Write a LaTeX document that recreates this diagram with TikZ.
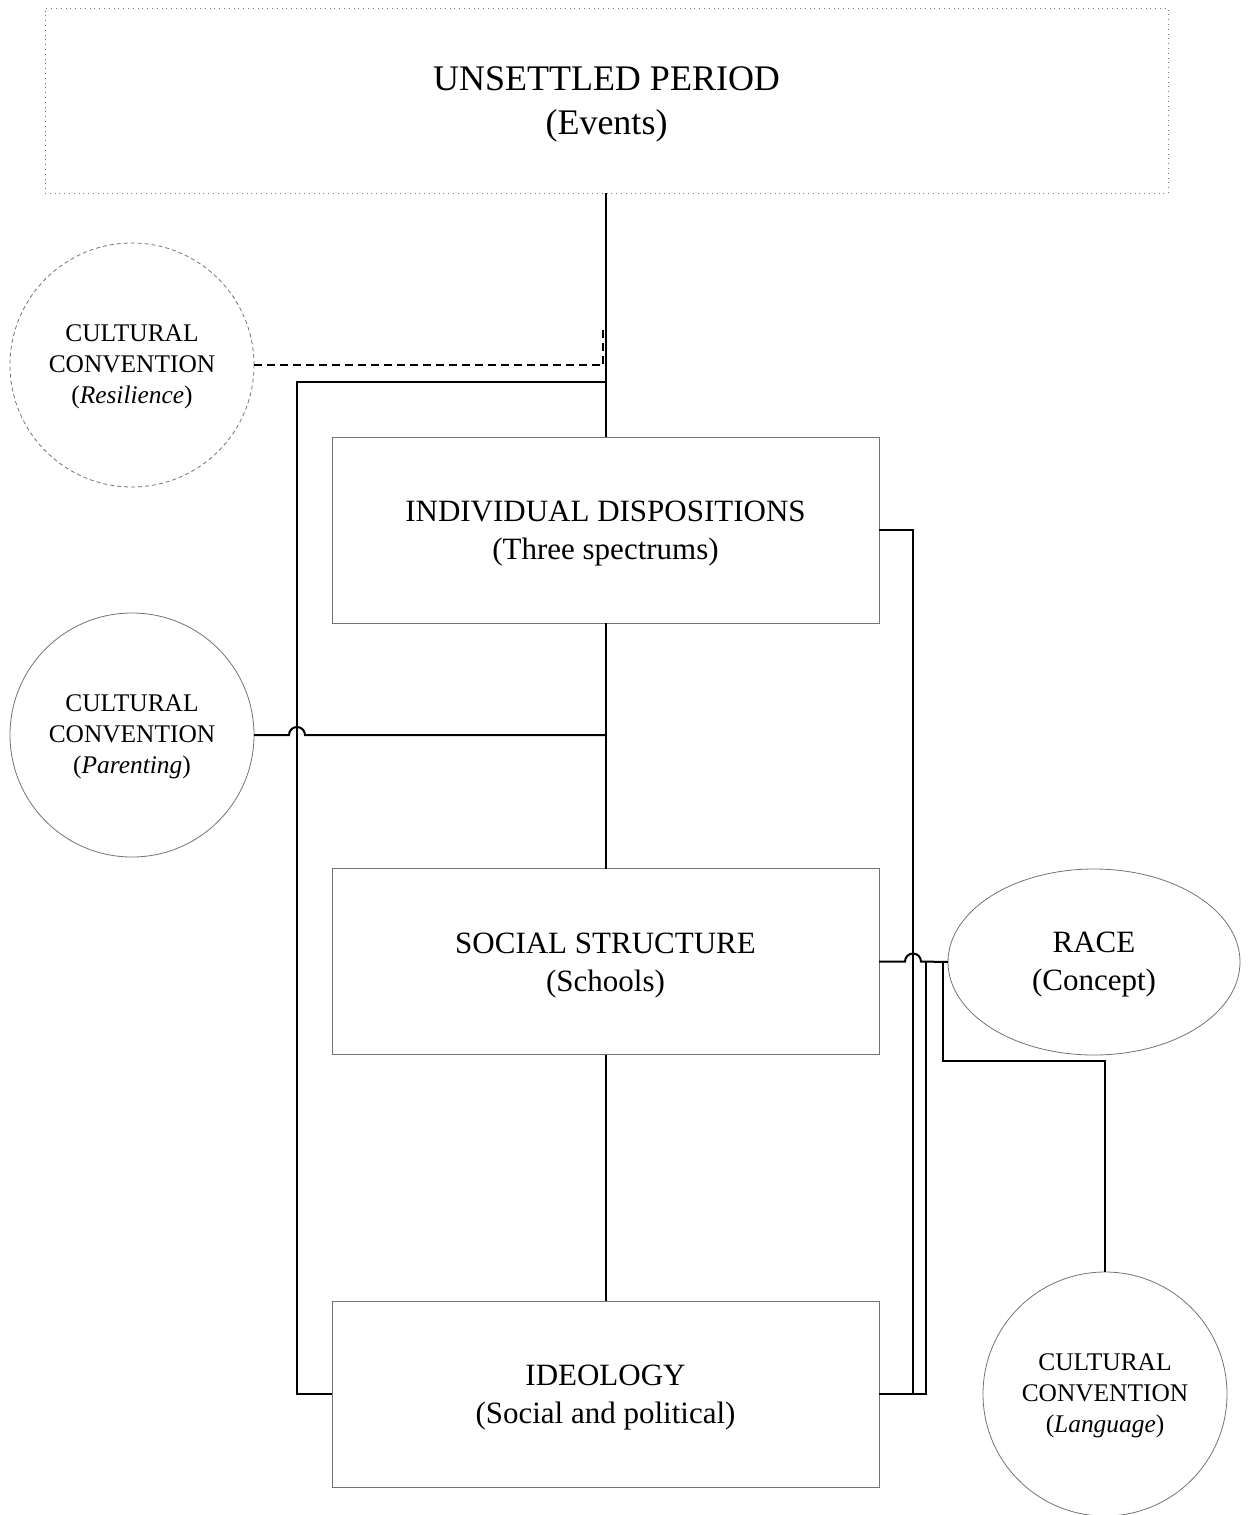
\documentclass[tikz,border=0pt]{standalone}
\usepackage{fontspec}
\setmainfont{Liberation Serif}
\usetikzlibrary{shapes.geometric}
\begin{document}
\begin{tikzpicture}[x=0.5pt,y=-0.5pt,
  boxst/.style={draw=black!55,line width=0.5pt,rectangle,inner sep=0pt,outer sep=0pt,
    minimum width=273.5pt,minimum height=93pt},
  circst/.style={draw=black!55,line width=0.4pt,circle,inner sep=0pt,outer sep=0pt,
    minimum size=122pt},
  btxt/.style={align=center,inner sep=0pt,yshift=-2pt,font=\fontsize{15.5}{19}\selectfont},
  ttxt/.style={align=center,inner sep=0pt,yshift=-2pt,font=\fontsize{18}{22}\selectfont},
  ctxt/.style={align=center,inner sep=0pt,yshift=-1pt,font=\fontsize{12.7}{15.5}\selectfont},
  conn/.style={line width=1pt,black},
  dconn/.style={line width=1pt,black,dash pattern=on 4pt off 2.5pt}]
\useasboundingbox (0,0) rectangle (1251,1515);
\node[draw=black!55,line width=0.4pt,dotted,rectangle,inner sep=0pt,outer sep=0pt,
  minimum width=561.5pt,minimum height=92.5pt,label={[ttxt]center:UNSETTLED PERIOD\\(Events)}]
  (top) at (606.5,100.5) {};
\node[boxst,label={[btxt]center:INDIVIDUAL DISPOSITIONS\\(Three spectrums)}] (id) at (605.5,530) {};
\node[boxst,label={[btxt]center:SOCIAL STRUCTURE\\(Schools)}] (ss) at (605.5,961.5) {};
\node[boxst,label={[btxt]center:IDEOLOGY\\(Social and political)}] (ideo) at (605.5,1394) {};
\node[circst,dashed,dash pattern=on 2pt off 1.5pt,label={[ctxt]center:CULTURAL\\CONVENTION\\(\textit{Resilience})}] (res) at (132,365) {};
\node[circst,label={[ctxt]center:CULTURAL\\CONVENTION\\(\textit{Parenting})}] (par) at (132,735) {};
\node[draw=black!55,line width=0.4pt,ellipse,inner sep=0pt,outer sep=0pt,minimum width=146pt,
  minimum height=93pt,label={[btxt,yshift=0.5pt]center:RACE\\(Concept)}] (race) at (1094,962) {};
\node[circst,label={[ctxt]center:CULTURAL\\CONVENTION\\(\textit{Language})}] (lang) at (1105,1394) {};
\coordinate (jL) at (297,382);
\coordinate (rX) at (913,0);
\coordinate (rY) at (926,0);
\coordinate (rZ) at (943,1061);
\coordinate (dT) at (603,330);
% connectors
\draw[conn] (top.south -| id.north) -- (id.north);
\draw[dconn] (res.east) -- (res.east -| id.north);
\draw[dconn] (dT) -- (dT |- res.east);
\draw[conn] (id.north |- jL) -- (jL) -- (jL |- ideo.west) -- (ideo.west);
\draw[conn] (par.east) -- ([xshift=-4pt]jL |- par.east) arc[start angle=180,end angle=360,radius=8] -- (id.south |- par.east);
\draw[conn] (id.south) -- (ss.north);
\draw[conn] (ss.south) -- (ideo.north);
\draw[conn] (id.east) -- (id.east -| rX) -- (ideo.east -| rX) -- (ideo.east);
\draw[conn] (ss.east) -- ([xshift=-4pt]ss.east -| rX) arc[start angle=180,end angle=360,radius=8] -- (race.west);
\draw[conn] (race.west -| rY) -- (ideo.east -| rY) -- (ideo.east);
\draw[conn] (race.west -| rZ) -- (rZ) -- (rZ -| lang.north) -- (lang.north);
\end{tikzpicture}
\end{document}
